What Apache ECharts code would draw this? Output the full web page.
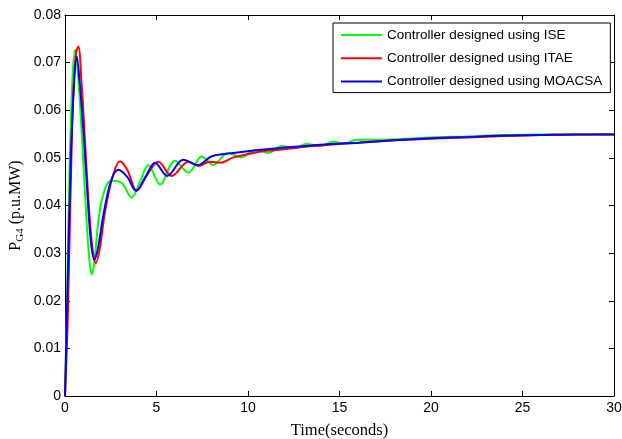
<!DOCTYPE html>
<html>
<head>
<meta charset="utf-8">
<script src="https://cdn.jsdelivr.net/npm/echarts@6/dist/echarts.min.js"></script>
<style>html,body{margin:0;padding:0;background:#fff}#c{width:622px;height:439px}</style>
</head>
<body>
<div id="c"></div>
<script>
const seriesNames = ['Controller designed using ISE', 'Controller designed using ITAE', 'Controller designed using MOACSA'];
const xTicks = [0, 5, 10, 15, 20, 25, 30];
const yTicks = [0, 0.01, 0.02, 0.03, 0.04, 0.05, 0.06, 0.07, 0.08];

const timeISE = [0, 0.1, 0.25, 0.4, 0.55, 0.7, 0.9, 1.1, 1.3, 1.46, 1.6, 1.8, 2.0, 2.3, 2.6, 3.1, 3.64, 4.1, 4.55, 5.19, 6.0, 6.74, 7.47, 8.1, 8.9, 9.65, 10.4, 11.1, 11.84, 12.5, 13.2, 13.9, 14.66, 15.3, 15.9, 17, 18.5, 20, 22, 24, 26, 28, 30];
const valISE = [0, 0.018, 0.048, 0.066, 0.0727, 0.068, 0.056, 0.042, 0.030, 0.0255, 0.028, 0.036, 0.041, 0.0445, 0.0452, 0.0447, 0.0417, 0.045, 0.0485, 0.0444, 0.0494, 0.0469, 0.0503, 0.0485, 0.051, 0.0501, 0.0517, 0.051, 0.0525, 0.052, 0.0529, 0.0525, 0.0534, 0.053, 0.0538, 0.0538, 0.054, 0.0543, 0.0545, 0.0548, 0.0549, 0.0549, 0.055];

const timeITAE = [0, 0.15, 0.3, 0.45, 0.6, 0.73, 0.9, 1.1, 1.3, 1.5, 1.69, 1.9, 2.2, 2.6, 3.0, 3.4, 3.92, 4.5, 5.1, 5.83, 6.74, 7.29, 7.9, 8.5, 9.2, 10, 11, 12, 12.8, 14, 14.6, 16, 18, 20, 22, 24, 26, 28, 30];
const valITAE = [0, 0.016, 0.042, 0.063, 0.072, 0.0734, 0.066, 0.053, 0.040, 0.031, 0.0279, 0.031, 0.039, 0.046, 0.0493, 0.0475, 0.0431, 0.0465, 0.0492, 0.0462, 0.0492, 0.0483, 0.0492, 0.049, 0.0501, 0.0508, 0.0515, 0.0518, 0.0522, 0.0526, 0.0528, 0.0532, 0.0537, 0.054, 0.0543, 0.0546, 0.0548, 0.0549, 0.0549];

const timeMOACSA = [0, 0.13, 0.31, 0.5, 0.64, 0.8, 1.0, 1.2, 1.4, 1.6, 1.8, 2.1, 2.5, 2.91, 3.4, 3.88, 4.4, 4.92, 5.59, 6.46, 7.28, 8.0, 9.2, 11, 12.8, 14.6, 16.1, 18, 20, 22, 24, 26, 28, 30];
const valMOACSA = [0, 0.021, 0.049, 0.066, 0.0713, 0.066, 0.056, 0.044, 0.033, 0.0286, 0.031, 0.038, 0.045, 0.0475, 0.046, 0.0431, 0.046, 0.049, 0.0462, 0.0496, 0.0485, 0.0503, 0.051, 0.0518, 0.0524, 0.0529, 0.0532, 0.0537, 0.0541, 0.0544, 0.0547, 0.0548, 0.0549, 0.0549];

const colors = ['#00ff00', '#ff0000', '#0000ff'];

function pairs(t, v) { return t.map((x, i) => [x, v[i]]); }

const chart = echarts.init(document.getElementById('c'), null, {renderer: 'canvas'});
const axisCommon = {
  axisLine: {show: true, onZero: false, lineStyle: {color: '#000', width: 1}},
  axisTick: {show: true, inside: true, length: 5, lineStyle: {color: '#000'}},
  splitLine: {show: false}
};
const labelFont = {color: '#000', fontFamily: 'Liberation Sans, Arial', fontSize: 14};
const serif = 'Liberation Serif, Times New Roman';

chart.setOption({
  animation: false,
  backgroundColor: '#fff',
  grid: {left: 65, right: 8, top: 15, bottom: 43, containLabel: false, outerBoundsMode: 'none'},
  legend: {
    orient: 'vertical', left: 333, top: 23,
    padding: [5, 8, 4, 8], itemGap: 9.3, itemWidth: 41, itemHeight: 2, itemTextGap: 5,
    icon: 'rect',
    borderColor: '#000', borderWidth: 1, backgroundColor: '#fff',
    textStyle: {color: '#000', fontFamily: 'Liberation Sans, Arial', fontSize: 13.5},
    data: seriesNames
  },
  xAxis: [
    Object.assign({
      type: 'value', min: xTicks[0], max: xTicks[xTicks.length - 1], interval: 5, position: 'bottom',
      axisLabel: Object.assign({margin: 5}, labelFont),
      name: 'Time(seconds)', nameLocation: 'middle', nameGap: 26, nameMoveOverlap: false,
      nameTextStyle: {color: '#000', fontFamily: serif, fontSize: 16.5}
    }, axisCommon),
    Object.assign({
      type: 'value', min: 0, max: 30, interval: 5, position: 'top', axisLabel: {show: false}
    }, axisCommon)
  ],
  yAxis: [
    Object.assign({
      type: 'value', min: yTicks[0], max: yTicks[yTicks.length - 1], interval: 0.01, position: 'left',
      axisLabel: Object.assign({margin: 4, formatter: v => v === 0 ? '0' : v.toFixed(2)}, labelFont),
      name: '{a|P}{b|G4}{a| (p.u.MW)}', nameLocation: 'middle', nameGap: 39, nameMoveOverlap: false,
      nameTextStyle: {
        color: '#000', fontFamily: serif, fontSize: 16,
        rich: {
          a: {fontFamily: serif, fontSize: 16, color: '#000', lineHeight: 20},
          b: {fontFamily: serif, fontSize: 11, color: '#000', verticalAlign: 'bottom', lineHeight: 20}
        }
      }
    }, axisCommon),
    Object.assign({
      type: 'value', min: 0, max: 0.08, interval: 0.01, position: 'right', axisLabel: {show: false}
    }, axisCommon)
  ],
  series: [
    {name: seriesNames[0], type: 'line', data: pairs(timeISE, valISE)},
    {name: seriesNames[1], type: 'line', data: pairs(timeITAE, valITAE)},
    {name: seriesNames[2], type: 'line', data: pairs(timeMOACSA, valMOACSA)}
  ].map((s, i) => Object.assign(s, {
    xAxisIndex: 0, yAxisIndex: 0, showSymbol: false, symbol: 'none', smooth: 0.35,
    color: colors[i], lineStyle: {color: colors[i], width: 2}, z: 2 + i
  }))
});
</script>
</body>
</html>
